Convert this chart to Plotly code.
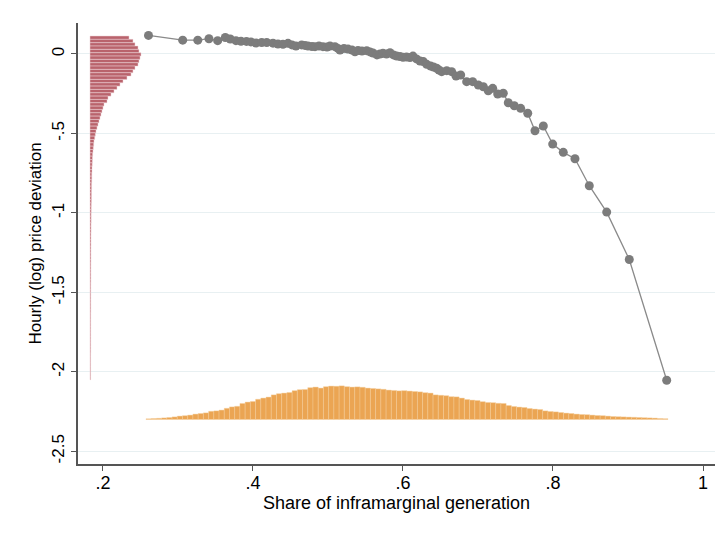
import plotly.graph_objects as go

# ---- binned scatter: share of inframarginal generation vs (log) price deviation ----
share = [0.2607, 0.3063, 0.3264, 0.3413, 0.3529, 0.3631, 0.3697, 0.3773, 0.384, 0.3913,
         0.3973, 0.404, 0.4116, 0.4183, 0.4267, 0.4333, 0.44, 0.4467, 0.452, 0.4573,
         0.4649, 0.4693, 0.4733, 0.4787, 0.4827, 0.488, 0.4933, 0.4987, 0.5027, 0.5093,
         0.5133, 0.516, 0.5213, 0.5267, 0.532, 0.536, 0.54, 0.5453, 0.5516, 0.556,
         0.56, 0.5653, 0.5693, 0.5733, 0.578, 0.5827, 0.5873, 0.5916, 0.596, 0.6,
         0.6047, 0.6093, 0.6133, 0.618, 0.6227, 0.6271, 0.6316, 0.6369, 0.6407, 0.6449,
         0.648, 0.6516, 0.6583, 0.6649, 0.6707, 0.6769, 0.6849, 0.6929, 0.7004, 0.7071,
         0.7137, 0.7196, 0.7263, 0.7337, 0.7404, 0.7484, 0.7569, 0.7663, 0.776, 0.7871,
         0.7996, 0.8137, 0.8293, 0.8484, 0.8716, 0.9017, 0.9516]
price_dev = [0.117, 0.087, 0.087, 0.096, 0.084, 0.104, 0.094, 0.084, 0.080, 0.079,
             0.076, 0.069, 0.072, 0.072, 0.068, 0.063, 0.061, 0.067, 0.057, 0.050,
             0.057, 0.054, 0.050, 0.047, 0.046, 0.050, 0.046, 0.044, 0.050, 0.046,
             0.035, 0.025, 0.035, 0.031, 0.025, 0.014, 0.022, 0.019, 0.021, 0.013,
             0.006, -0.006, 0.000, 0.004, 0.000, 0.008, -0.006, -0.013, -0.016, -0.021,
             -0.019, -0.022, -0.013, -0.031, -0.044, -0.048, -0.065, -0.076, -0.082, -0.090,
             -0.101, -0.111, -0.105, -0.111, -0.139, -0.132, -0.174, -0.174, -0.195, -0.206,
             -0.231, -0.216, -0.252, -0.247, -0.307, -0.326, -0.342, -0.373, -0.483, -0.453,
             -0.567, -0.619, -0.659, -0.829, -0.995, -1.293, -2.053]

# ---- distribution of price deviation (horizontal histogram, drawn on the left) ----
ydist_top = 0.113
ydist_binwidth = 0.021
ydist_base = 0.1827
ydist_heights = [0.052, 0.0573, 0.06, 0.064, 0.0653, 0.068, 0.0667, 0.0653, 0.064, 0.06,
                 0.0573, 0.0547, 0.0493, 0.044, 0.04, 0.036, 0.032, 0.028, 0.024, 0.0227,
                 0.0187, 0.0173, 0.016, 0.0147, 0.0133, 0.012, 0.0107, 0.0093, 0.008, 0.0071,
                 0.0063, 0.0053, 0.0049, 0.0044, 0.004, 0.0035, 0.0032, 0.0031, 0.0029, 0.0027,
                 0.0027, 0.0024, 0.0024, 0.0023, 0.0021, 0.0021, 0.002, 0.002, 0.0019, 0.0019,
                 0.0017, 0.0016, 0.0016, 0.0015, 0.0015, 0.0015, 0.0014, 0.0014, 0.0014, 0.0013,
                 0.0013, 0.0013, 0.0013, 0.0012, 0.0012, 0.0012, 0.0012, 0.0012, 0.0011, 0.0011,
                 0.0011, 0.0011, 0.0011, 0.0011, 0.001, 0.001, 0.001, 0.001, 0.001, 0.001,
                 0.001, 0.001, 0.001, 0.0009, 0.0009, 0.0009, 0.0009, 0.0009, 0.0009, 0.0009,
                 0.0009, 0.0009, 0.0009, 0.0009, 0.0009, 0.0008, 0.0008, 0.0008, 0.0008, 0.0008,
                 0.0008, 0.0008, 0.0008]

# ---- distribution of share (vertical histogram, drawn at the bottom) ----
xdist_start = 0.2573
xdist_binwidth = 0.00696
xdist_base = -2.300
xdist_heights = [0.0044, 0.0063, 0.0076, 0.0101, 0.0126, 0.0164, 0.0214, 0.0239, 0.0277, 0.0340,
                 0.0378, 0.0416, 0.0516, 0.0542, 0.0592, 0.0705, 0.0793, 0.0831, 0.1008, 0.1096,
                 0.1134, 0.1272, 0.1348, 0.1411, 0.1549, 0.1625, 0.1662, 0.1700, 0.1814, 0.1877,
                 0.1889, 0.2003, 0.2040, 0.1977, 0.2065, 0.2103, 0.2091, 0.2116, 0.2065, 0.2040,
                 0.2053, 0.2028, 0.1977, 0.1952, 0.1927, 0.1902, 0.1851, 0.1826, 0.1801, 0.1814,
                 0.1788, 0.1763, 0.1738, 0.1688, 0.1662, 0.1549, 0.1524, 0.1499, 0.1436, 0.1423,
                 0.1348, 0.1259, 0.1222, 0.1196, 0.1121, 0.1071, 0.1058, 0.1020, 0.1008, 0.0882,
                 0.0819, 0.0781, 0.0756, 0.0693, 0.0655, 0.0630, 0.0542, 0.0504, 0.0479, 0.0441,
                 0.0403, 0.0378, 0.0340, 0.0315, 0.0302, 0.0277, 0.0252, 0.0239, 0.0214, 0.0189,
                 0.0176, 0.0164, 0.0151, 0.0139, 0.0126, 0.0113, 0.0101, 0.0088, 0.0063, 0.0050]

x_tickvals = [0.2, 0.4, 0.6, 0.8, 1.0]
x_ticktext = [".2", ".4", ".6", ".8", "1"]
y_tickvals = [0, -0.5, -1, -1.5, -2, -2.5]
y_ticktext = ["0", "-.5", "-1", "-1.5", "-2", "-2.5"]

ydist_centers = [ydist_top - ydist_binwidth * (i + 0.5) for i in range(len(ydist_heights))]
xdist_centers = [xdist_start + xdist_binwidth * (i + 0.5) for i in range(len(xdist_heights))]

fig = go.Figure()

fig.add_trace(go.Bar(
    y=ydist_centers, x=ydist_heights, base=ydist_base, orientation="h",
    width=ydist_binwidth,
    marker=dict(color="#b9636c", line=dict(color="#eed3d6", width=0.5)),
    showlegend=False, hoverinfo="skip"))

fig.add_trace(go.Bar(
    x=xdist_centers, y=xdist_heights, base=xdist_base,
    width=xdist_binwidth,
    marker=dict(color="#eba553", line=dict(color="#f6cf9c", width=0.4)),
    showlegend=False, hoverinfo="skip"))

fig.add_trace(go.Scatter(
    x=share, y=price_dev, mode="lines+markers",
    line=dict(color="#8a8a8a", width=1.3),
    marker=dict(color="#7c7c7c", size=9, line=dict(width=0)),
    showlegend=False))

xfont = dict(family="Liberation Sans, Arial, sans-serif", size=18, color="#000000")
yfont = dict(family="Liberation Sans, Arial, sans-serif", size=17, color="#000000")

fig.update_layout(
    width=727, height=533,
    margin=dict(l=70, r=20, t=15, b=77),
    paper_bgcolor="white", plot_bgcolor="white",
    barmode="overlay",
    font=xfont,
    xaxis=dict(
        range=[0.1667, 1.016], tickvals=x_tickvals, ticktext=x_ticktext,
        automargin=False,
        showgrid=False, zeroline=False, showline=True, linecolor="#555555", linewidth=1.5,
        ticks="outside", ticklen=5, tickcolor="#555555", tickwidth=1.2,
        tickfont=xfont, ticklabelstandoff=-3,
        title=dict(text="Share of inframarginal generation", font=xfont, standoff=0),
    ),
    yaxis=dict(
        range=[-2.58, 0.195], tickvals=y_tickvals, ticktext=y_ticktext,
        automargin=False,
        showgrid=True, gridcolor="#e8f0f2", gridwidth=1,
        zeroline=False, showline=True, linecolor="#555555", linewidth=1.5,
        ticks="outside", ticklen=5, tickcolor="#555555", tickwidth=1.2,
        tickangle=-90, tickfont=yfont,
        title=dict(text="Hourly (log) price deviation", font=yfont, standoff=4),
    ),
    shapes=[dict(type="rect", xref="paper", yref="paper",
                 x0=-0.1146, x1=1.1, y0=-0.25, y1=1.041,
                 line=dict(color="#dde7ea", width=1), fillcolor="rgba(0,0,0,0)",
                 layer="below")],
)

fig.write_html("out.html")
